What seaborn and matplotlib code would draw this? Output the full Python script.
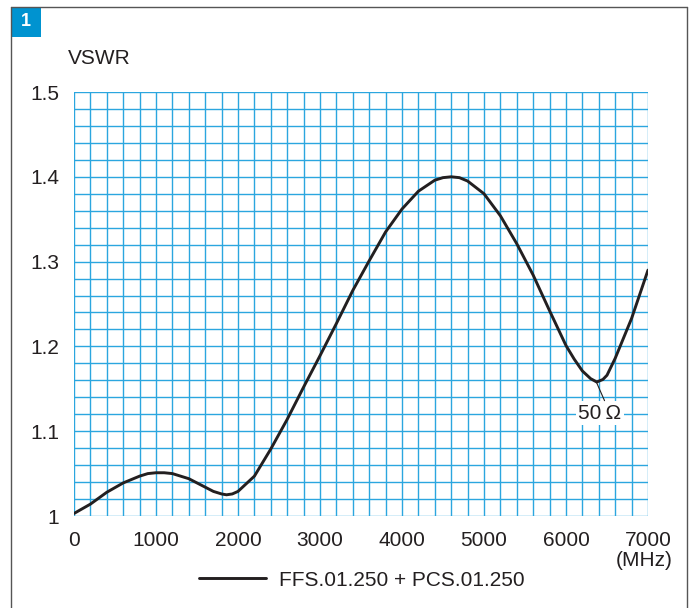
import matplotlib
matplotlib.use('Agg')
import matplotlib.pyplot as plt
from matplotlib.patches import Rectangle
from matplotlib.lines import Line2D
import pandas as pd
import seaborn as sns

# values
freq_mhz = [0, 200, 400, 600, 800, 900, 1000, 1100, 1200, 1400, 1600, 1700,
            1800, 1860, 1930, 2000, 2200, 2400, 2600, 2800, 3000, 3200, 3400,
            3600, 3800, 4000, 4200, 4400, 4500, 4600, 4700, 4800, 5000, 5200,
            5400, 5600, 5800, 6000, 6100, 6200, 6300, 6375, 6450, 6500, 6600,
            6800, 7000]
vswr = [1.003, 1.014, 1.028, 1.039, 1.047, 1.050, 1.051, 1.051, 1.050, 1.044,
        1.034, 1.029, 1.026, 1.025, 1.026, 1.029, 1.047, 1.079, 1.114, 1.152,
        1.189, 1.227, 1.266, 1.301, 1.335, 1.362, 1.383, 1.396, 1.399, 1.400,
        1.399, 1.395, 1.380, 1.354, 1.321, 1.284, 1.242, 1.201, 1.185, 1.171,
        1.162, 1.158, 1.161, 1.166, 1.186, 1.233, 1.290]
series_label = 'FFS.01.250 + PCS.01.250'
x_major = [0, 1000, 2000, 3000, 4000, 5000, 6000, 7000]
y_major = [1.0, 1.1, 1.2, 1.3, 1.4, 1.5]
y_labels = ['1', '1.1', '1.2', '1.3', '1.4', '1.5']

GRID = '#2ba6df'
INK = '#231f20'
FS = 15

sns.set_theme(style='white')
plt.rcParams['font.family'] = ['Liberation Sans', 'DejaVu Sans']

df = pd.DataFrame({'freq': freq_mhz, 'vswr': vswr})

fig = plt.figure(figsize=(6.96, 6.08), dpi=100)
ax = fig.add_axes([74 / 696, 1 - 516 / 608, 574 / 696, 424 / 608])

sns.lineplot(data=df, x='freq', y='vswr', ax=ax, color=INK, linewidth=2.1,
             label=series_label, zorder=5)

ax.set_xlim(0, 7000)
ax.set_ylim(1.0, 1.5)
ax.set_xticks(x_major)
ax.set_xticks(range(0, 7001, 200), minor=True)
ax.set_yticks(y_major)
ax.set_yticklabels(y_labels)
ax.set_yticks([1 + 0.02 * i for i in range(26)], minor=True)
ax.grid(True, which='both', color=GRID, linewidth=1.0)
ax.set_axisbelow(True)
for s in ax.spines.values():
    s.set_visible(False)
ax.tick_params(which='both', direction='out', color=GRID, width=1.0,
               length=4.5, labelsize=FS, labelcolor=INK)
ax.tick_params(axis='x', pad=6)
ax.tick_params(axis='y', pad=6)
ax.set_xlabel('')
ax.set_ylabel('')

# 50 ohm label with a slanted leader line
ax.text(6415, 1.121, '50\u2009\u03a9', ha='center', va='center', fontsize=FS,
        color=INK, zorder=6,
        bbox=dict(boxstyle='square,pad=0.12', fc='white', ec='none'))
ax.annotate('', xy=(6370, 1.158), xytext=(6470, 1.136),
            arrowprops=dict(arrowstyle='-', color=INK, lw=0.8,
                            shrinkA=0, shrinkB=0), zorder=6)

fig.text(68 / 696, 1 - 58 / 608, 'VSWR', fontsize=FS, color=INK, va='center')
fig.text(644 / 696, 1 - 561 / 608, '(MHz)', fontsize=FS, color=INK,
         ha='center', va='center')

leg = ax.legend(loc='center', bbox_to_anchor=(362 / 696, 1 - 580 / 608),
                bbox_transform=fig.transFigure, frameon=False, fontsize=FS,
                handlelength=3.2, handletextpad=0.65)
for t in leg.get_texts():
    t.set_color(INK)

# panel frame and number badge
fig.add_artist(Line2D([11 / 696, 11 / 696], [0, 1 - 7 / 608],
                      transform=fig.transFigure, color='#555555', lw=1))
fig.add_artist(Line2D([11 / 696, 687 / 696], [1 - 7 / 608, 1 - 7 / 608],
                      transform=fig.transFigure, color='#555555', lw=1))
fig.add_artist(Line2D([687 / 696, 687 / 696], [0, 1 - 7 / 608],
                      transform=fig.transFigure, color='#555555', lw=1))
fig.add_artist(Rectangle((11 / 696, 1 - 37 / 608), 30 / 696, 30 / 608,
                         transform=fig.transFigure, fc='#0093d0', ec='none'))
fig.text(26 / 696, 1 - 22 / 608, '1', color='white', fontsize=13,
         fontweight='bold', ha='center', va='center')

fig.savefig('out.png', dpi=100)
